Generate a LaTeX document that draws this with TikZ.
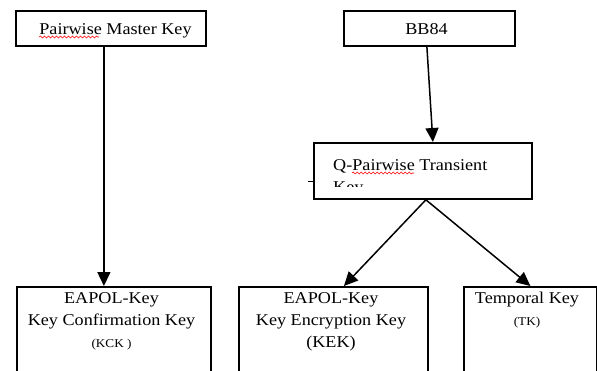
\documentclass[tikz,border=0pt]{standalone}
\usepackage{fontspec}
\setmainfont{Liberation Serif}[FakeStretch=1.1]
\usetikzlibrary{arrows.meta,decorations.pathmorphing}
\tikzstyle{kbox}=[draw, rectangle, line width=1.8pt, inner sep=0pt, anchor=north west]
\tikzstyle{ktext}=[inner sep=0pt, anchor=base, font=\fontsize{16.5}{22}\selectfont]
\tikzstyle{to}=[-{Triangle[length=14pt,width=13pt]}, line width=1.5pt]
\tikzstyle{typo}=[red, line width=0.6pt, decorate, decoration={snake, amplitude=1pt, segment length=4pt}]
\newcommand{\keylines}[1]{\parbox[t]{200pt}{\centering #1}}
\newcommand{\smallkey}{\fontsize{12}{22}\selectfont}

\begin{document}
\begin{tikzpicture}[x=1pt, y=-1pt]
    \useasboundingbox (0,0) rectangle (597,370);
    % top row
    \node[kbox, minimum width=190, minimum height=35] (pmk) at (15,10) {};
    \node[ktext] (pmklabel) at (115.5,34) {Pairwise Master Key};
    \node[kbox, minimum width=171, minimum height=35] (bb) at (343,10) {};
    \node[ktext] (bblabel) at (426.5,34) {BB84};
    % middle
    \node[kbox, minimum width=218, minimum height=56] (q) at (313,142) {};
    \node[ktext, anchor=base west] (qlabel) at (333,170) {Q-Pairwise Transient};
    \begin{scope}
        \clip (313,142) rectangle (531,186);
        \node[ktext, anchor=base west] (qkey) at (333,192) {Key};
    \end{scope}
    \coordinate (qstub) at ([xshift=-5pt,yshift=-39pt]q.north west);
    \draw[line width=1pt] (qstub) -- (qstub -| q.west);
    % bottom row
    \node[kbox, minimum width=194, minimum height=100] (kck) at (16,286) {};
    \node[ktext] (kcklabel) at (111.5,303)
        {\keylines{EAPOL-Key\\Key Confirmation Key\\{\smallkey (KCK )}}};
    \node[kbox, minimum width=189, minimum height=100] (kek) at (238,286) {};
    \node[ktext] (keklabel) at (331,303)
        {\keylines{EAPOL-Key\\Key Encryption Key\\(KEK)}};
    \node[kbox, minimum width=133, minimum height=100] (tk) at (463,286) {};
    \node[ktext] (tklabel) at (527,303)
        {\keylines{Temporal Key\\{\smallkey (TK)}}};
    % spelling marks
    \draw[typo] ([yshift=-3pt]pmklabel.base west) -- ++(60,0);
    \draw[typo] ([xshift=19pt,yshift=-3pt]qlabel.base west) -- ++(62,0);
    % arrows
    \coordinate (split) at ([xshift=3pt]q.south);
    \draw[to] ([xshift=-7pt]pmk.south) -- ([xshift=-7pt]pmk.south |- kck.north);
    \draw[to] ([xshift=-2.5pt]bb.south) -- ([xshift=10pt]q.north);
    \draw[to] (split) -- ([xshift=10.5pt]kek.north);
    \draw[to] (split) -- (tk.north);
\end{tikzpicture}
\end{document}
